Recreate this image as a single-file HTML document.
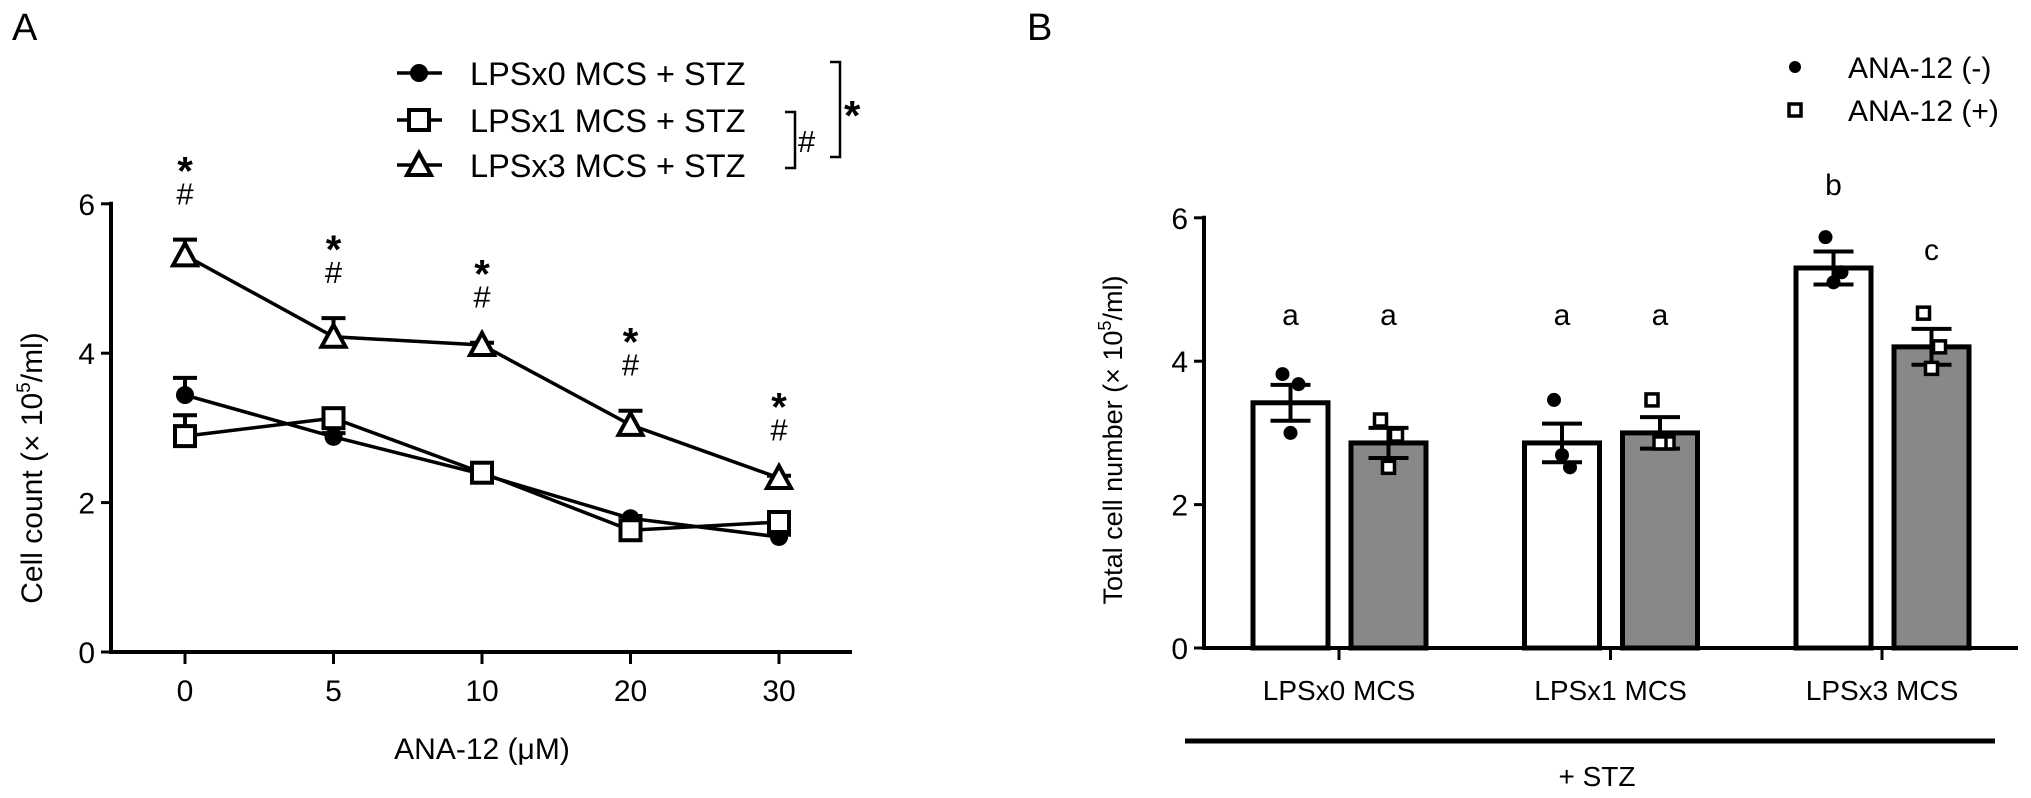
<!DOCTYPE html>
<html><head><meta charset="utf-8"><style>
html,body{margin:0;padding:0;background:#fff;}
svg{display:block;font-family:"Liberation Sans",Arial,sans-serif;}
</style></head><body>
<svg id="fig" width="2031" height="798" viewBox="0 0 2031 798">
<text x="12" y="40" font-size="38">A</text>
<text x="1027" y="40" font-size="38">B</text>
<g id="chartA"></g>
<g id="chartB"></g>
</svg>
<script>
// ---------- Chart A data ----------
const aDoses = ["0","5","10","20","30"];
const aYTicks = [0,2,4,6];
const aSeriesNames = ["LPSx0 MCS + STZ","LPSx1 MCS + STZ","LPSx3 MCS + STZ"];
const aLPS0 = [3.44,2.88,2.38,1.79,1.54];
const aLPS0Err = [0.23,0.05,0.03,0.03,0.03];
const aLPS1 = [2.89,3.13,2.40,1.63,1.74];
const aLPS1Err = [0.28,0.05,0.05,0.03,0.03];
const aLPS3 = [5.31,4.22,4.11,3.04,2.33];
const aLPS3Err = [0.21,0.25,0.03,0.19,0.03];
const aStars = ["*","*","*","*","*"];
// ---------- Chart B data ----------
const bGroups = ["LPSx0 MCS","LPSx1 MCS","LPSx3 MCS"];
const bYTicks = [0,2,4,6];
const bMinus = [3.42,2.86,5.30];
const bMinusErr = [0.25,0.27,0.23];
const bPlus = [2.86,3.00,4.20];
const bPlusErr = [0.21,0.22,0.25];
const bMinusPts = [[3.82,3.68,3.00],[3.46,2.52,2.69],[5.73,5.24,5.10]];
const bPlusPts = [[3.18,2.97,2.52],[3.46,2.86,2.86],[4.67,4.20,3.90]];
const bMinusLetters = ["a","a","b"];
const bPlusLetters = ["a","a","c"];

const NS="http://www.w3.org/2000/svg";
function mk(parent,tag,attrs,text){const e=document.createElementNS(NS,tag);for(const k in attrs)e.setAttribute(k,attrs[k]);if(text!==undefined)e.textContent=text;parent.appendChild(e);return e;}

// ---------- Chart A ----------
(function(){
const g=document.getElementById('chartA');
const x0=111,yBase=652,pxPer=74.7;
const xPos=i=>185+i*148.5;
const yA=v=>yBase-v*pxPer;
let e;
e=mk(g,'line',{x1:x0,y1:yA(6)-2,x2:x0,y2:yBase+2,stroke:'#000','stroke-width':4});

e=mk(g,'line',{x1:x0-2,y1:yBase,x2:852,y2:yBase,stroke:'#000','stroke-width':4});

aYTicks.forEach(t=>{
 mk(g,'line',{x1:x0-10,y1:yA(t),x2:x0,y2:yA(t),stroke:'#000','stroke-width':3});
 e=mk(g,'text',{x:x0-16,y:yA(t)+11,'font-size':30,'text-anchor':'end'},String(t));
 
});
aDoses.forEach((d,i)=>{
 mk(g,'line',{x1:xPos(i),y1:yBase,x2:xPos(i),y2:yBase+12,stroke:'#000','stroke-width':3});
 e=mk(g,'text',{x:xPos(i),y:701,'font-size':30,'text-anchor':'middle'},d);
 
});
e=mk(g,'text',{x:482,y:759,'font-size':30,'text-anchor':'middle'},'ANA-12 (μM)');

e=mk(g,'text',{x:42,y:468,'font-size':30,'text-anchor':'middle',transform:'rotate(-90 42 468)'});

e.innerHTML='Cell count (× 10<tspan font-size="19" dy="-12">5</tspan><tspan dy="12">/ml)</tspan>';

function marker(par,type,cx,cy){
 if(type===0) return mk(par,'circle',{cx:cx,cy:cy,r:9,fill:'#000'});
 if(type===1) return mk(par,'rect',{x:cx-10,y:cy-10,width:20,height:20,fill:'#fff',stroke:'#000','stroke-width':4});
 return mk(par,'path',{d:`M${cx-12},${cy+10} L${cx+12},${cy+10} L${cx},${cy-12} Z`,fill:'#fff',stroke:'#000','stroke-width':4,'stroke-linejoin':'miter'});
}
const series=[[aLPS0,aLPS0Err],[aLPS1,aLPS1Err],[aLPS3,aLPS3Err]];
series.forEach((s,si)=>{
 const sg=mk(g,'g',{});
 
 
 const pts=s[0].map((v,i)=>xPos(i)+','+yA(v)).join(' ');
 mk(sg,'polyline',{points:pts,fill:'none',stroke:'#000','stroke-width':3.5});
 s[0].forEach((v,i)=>{
  const cx=xPos(i),cy=yA(v),top=yA(v+s[1][i]);
  mk(sg,'line',{x1:cx,y1:cy,x2:cx,y2:top,stroke:'#000','stroke-width':4});
  mk(sg,'line',{x1:cx-12,y1:top,x2:cx+12,y2:top,stroke:'#000','stroke-width':4});
 });
 s[0].forEach((v,i)=>{
  const m=marker(sg,si,xPos(i),yA(v));
  
  
 });
});
aLPS3.forEach((v,i)=>{
 const top=yA(v+aLPS3Err[i]);
 e=mk(g,'text',{x:xPos(i),y:top-35,'font-size':31,'text-anchor':'middle'},'#');
 
 e=mk(g,'text',{x:xPos(i),y:top-55,'font-size':40,'font-weight':'bold','text-anchor':'middle'},aStars[i]);
 
});
const legY=[73,120,165];
aSeriesNames.forEach((n,i)=>{
 const lg=mk(g,'g',{});
 
 
 mk(lg,'line',{x1:397,y1:legY[i],x2:442,y2:legY[i],stroke:'#000','stroke-width':3.5});
 marker(lg,i,419,legY[i]);
 mk(lg,'text',{x:470,y:legY[i]+12,'font-size':32.5},n);
});
e=mk(g,'path',{d:'M785,112 L795,112 L795,168 L785,168',fill:'none',stroke:'#000','stroke-width':2.5});

mk(g,'text',{x:798,y:152,'font-size':31},'#');
e=mk(g,'path',{d:'M830,62 L840,62 L840,157 L830,157',fill:'none',stroke:'#000','stroke-width':2.5});

mk(g,'text',{x:844,y:130,'font-size':42,'font-weight':'bold'},'*');
})();

// ---------- Chart B ----------
(function(){
const g=document.getElementById('chartB');
const x0=1204,yBase=648,pxPer=71.7;
const yB=v=>yBase-v*pxPer;
const groupCenter=i=>1339+i*271.5;
const barW=79;
let e;
e=mk(g,'line',{x1:x0,y1:yB(6)-2,x2:x0,y2:yBase+2,stroke:'#000','stroke-width':4});

e=mk(g,'line',{x1:x0-2,y1:yBase,x2:2018,y2:yBase,stroke:'#000','stroke-width':4});

bYTicks.forEach(t=>{
 mk(g,'line',{x1:x0-10,y1:yB(t),x2:x0,y2:yB(t),stroke:'#000','stroke-width':3});
 e=mk(g,'text',{x:x0-16,y:yB(t)+11,'font-size':30,'text-anchor':'end'},String(t));
 
});
e=mk(g,'text',{x:1122,y:440,'font-size':27,'text-anchor':'middle',transform:'rotate(-90 1122 440)'});

e.innerHTML='Total cell number (× 10<tspan font-size="18" dy="-11">5</tspan><tspan dy="11">/ml)</tspan>';
function sq(par,cx,cy){return mk(par,'rect',{x:cx-6,y:cy-6,width:12,height:12,fill:'#fff',stroke:'#000','stroke-width':3.5});}
bGroups.forEach((name,i)=>{
 const c=groupCenter(i);
 mk(g,'line',{x1:c,y1:yBase,x2:c,y2:yBase+12,stroke:'#000','stroke-width':3});
 e=mk(g,'text',{x:c,y:700,'font-size':28,'text-anchor':'middle'},name);
 
 const bars=[[bMinus,bMinusErr,bMinusPts,bMinusLetters,'#fff',c-86],[bPlus,bPlusErr,bPlusPts,bPlusLetters,'#888',c+12]];
 bars.forEach((b,bi)=>{
  const v=b[0][i],left=b[5],cx=left+barW/2;
  e=mk(g,'rect',{x:left,y:yB(v),width:barW-4,height:yBase-yB(v),fill:b[4],stroke:'#000','stroke-width':5});
  
  const hi=yB(v+b[1][i]),lo=yB(v-b[1][i]);
  const ecx=cx-2;
  mk(g,'line',{x1:ecx,y1:hi,x2:ecx,y2:lo,stroke:'#000','stroke-width':4});
  mk(g,'line',{x1:ecx-20,y1:hi,x2:ecx+20,y2:hi,stroke:'#000','stroke-width':4});
  mk(g,'line',{x1:ecx-20,y1:lo,x2:ecx+20,y2:lo,stroke:'#000','stroke-width':4});
  b[2][i].forEach((p,pi)=>{
   const px=ecx+[-8,8,0][pi];
   const m=bi?sq(g,px,yB(p)):mk(g,'circle',{cx:px,cy:yB(p),r:7,fill:'#000'});
   
   
  });
  const letterY=b[3][i]==='a'?(i<2?325:333):(b[3][i]==='b'?195:260);
  e=mk(g,'text',{x:ecx,y:letterY,'font-size':30,'text-anchor':'middle'},b[3][i]);
  
 });
});
e=mk(g,'line',{x1:1185,y1:741,x2:1995,y2:741,stroke:'#000','stroke-width':5});

e=mk(g,'text',{x:1597,y:786,'font-size':28,'text-anchor':'middle'},'+ STZ');

let lg=mk(g,'g',{});


mk(lg,'circle',{cx:1795,cy:67,r:6,fill:'#000'});
mk(lg,'text',{x:1848,y:78,'font-size':30},'ANA-12 (-)');
lg=mk(g,'g',{});


sq(lg,1795,110);
mk(lg,'text',{x:1848,y:121,'font-size':30},'ANA-12 (+)');
})();
</script>
</body></html>
